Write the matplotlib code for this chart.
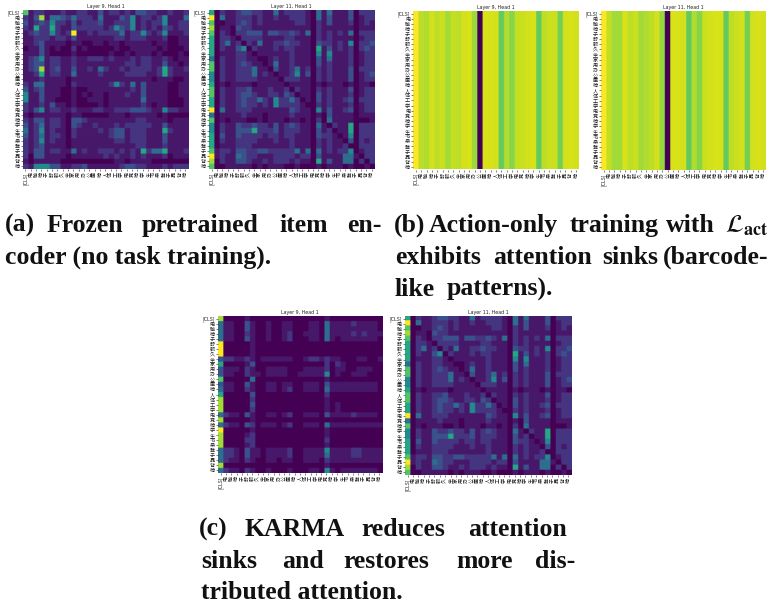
import matplotlib
matplotlib.use("Agg")
import matplotlib.pyplot as plt
import numpy as np

plt.rcParams["font.family"] = ["Noto Sans CJK SC", "DejaVu Sans"]
plt.rcParams["mathtext.fontset"] = "stix"

W, H = 777, 603

tokens = ["[CLS]"] + list("电脑椅子舒服久坐家用办公座椅人体工学电竞椅学生书桌凳子靠背椅")

# attention, 0 (dark) to 9 (yellow), one string per row
frozen_layer9 = [
	"71221 11211 22113 12212 13322 11211 2",
	"21381 44324 22214 11132 51221 25111 4",
	"31232 52213 12223 11222 51212 25112 2",
	"21622 62113 22222 12532 51212 13212 2",
	"12322 52129 11212 22241 22521 25111 2",
	"11222 12213 11111 11221 22211 12001 1",
	"11231 11101 10011 01101 11110 11001 1",
	"01131 01002 01000 00100 11111 01000 1",
	"11131 00001 00000 01001 01110 10001 0",
	"12351 22112 11222 12111 21221 12101 1",
	"12331 22112 11111 11112 21221 13110 1",
	"12381 23113 11214 21121 22221 26211 2",
	"11261 22114 11112 11112 22211 26211 1",
	"11121 11101 11111 11111 11110 11100 1",
	"21441 11102 11111 12521 41311 11001 1",
	"31231 11001 00111 11111 21311 11001 1",
	"51131 11001 01011 01112 11311 11001 1",
	"51131 10001 00111 01111 11411 11000 1",
	"21121 31101 00001 01111 11210 11000 1",
	"21351 22112 11122 11222 33321 15221 1",
	"10111 11101 10000 01110 11111 01000 0",
	"21331 22103 32111 11111 12211 11011 1",
	"31241 22103 21121 11212 22221 13111 1",
	"41251 21102 11112 12331 22211 16211 1",
	"31241 22102 11111 12331 22211 13111 1",
	"21251 21101 11111 11221 22211 13111 1",
	"21231 11101 11111 11111 12211 12111 1",
	"21331 22114 12112 22121 21624 46111 2",
	"20331 11101 11111 21211 21211 12011 1",
	"10111 11000 00000 00110 11110 00000 0",
	"21555 33112 23111 11123 32211 12122 2",
]

frozen_layer11 = [
	"60211 23322 11412 22210 41411 13022 2",
	"90411 22212 11211 22210 41311 13012 2",
	"70011 23212 11111 12210 21311 12012 1",
	"80110 32211 11111 11110 21111 11011 1",
	"70210 22333 13322 32140 21212 14022 2",
	"60221 02222 11112 21110 21211 11012 2",
	"60241 20214 11223 22110 32212 15022 3",
	"60211 35021 11212 21110 61312 12023 2",
	"60111 22101 11111 21110 51511 12012 2",
	"40211 22110 01211 21110 31411 12012 2",
	"70211 23211 01411 21110 31211 12012 2",
	"70211 22241 10311 24120 21211 13022 2",
	"50211 22241 21011 25130 21211 13012 3",
	"50211 22221 11102 22110 21211 13012 2",
	"60101 11101 11110 11110 10111 01011 0",
	"70211 22311 12112 02110 21211 13012 2",
	"70211 23321 12213 20110 31211 12012 2",
	"60211 23224 21522 42010 31211 23022 2",
	"60211 23221 21522 22100 21211 12012 2",
	"90411 22211 11111 32110 51311 23012 2",
	"40111 12111 01111 21110 10311 11011 1",
	"70101 11001 01110 11010 20411 11000 1",
	"50211 32232 21312 32110 41021 16022 2",
	"50211 33362 22312 22110 31201 16022 2",
	"60311 32222 12212 21110 32210 15022 2",
	"60211 22221 11211 21110 21211 03021 2",
	"60111 22211 11111 21110 21211 20022 2",
	"71221 33223 32222 24140 41212 25012 2",
	"91211 43221 11222 21220 31111 44102 2",
	"80211 33211 21222 12110 61311 44020 2",
	"70011 11101 01110 01000 10111 01001 0",
]

karma_layer9 = [
	"80000 10000 00000 00000 10000 00000 0",
	"41100 31001 00110 00110 41111 21111 0",
	"41100 31001 00110 00110 41111 11111 0",
	"41100 21001 00120 01110 41111 21211 1",
	"41100 31001 00120 00110 41011 11111 0",
	"90000 01000 00000 00000 00000 00000 0",
	"90000 01000 00000 00000 00000 00000 0",
	"90000 01000 00000 00000 00000 00000 0",
	"32211 21011 11110 01221 21100 01100 1",
	"60000 13000 00000 00000 20210 00000 0",
	"31110 21001 11100 01111 20110 01110 0",
	"31100 21101 11100 11111 50100 11100 0",
	"70000 04000 00000 00000 10000 00000 0",
	"31100 31001 10110 01110 31111 11111 0",
	"41100 21001 10120 01110 41111 11111 0",
	"60000 03000 00000 00000 20000 00000 0",
	"80000 02000 00000 00000 10000 00000 0",
	"80000 03000 00000 00000 10100 00000 0",
	"80000 02000 00000 00000 10100 00000 0",
	"42110 31001 10120 01110 31111 21111 0",
	"80000 01000 00000 00000 00000 00000 0",
	"42110 32011 10120 01110 41111 11111 1",
	"90000 01000 00000 00000 10000 00000 0",
	"80000 12000 00000 00000 10000 00000 0",
	"80000 22000 00000 00000 20000 00000 0",
	"80000 12000 00000 00000 10000 00000 0",
	"42210 31101 11120 01111 51111 22111 1",
	"42210 31101 11120 01111 41111 22111 1",
	"42110 21001 10110 01110 21111 11111 1",
	"80000 00000 00000 00000 10000 00000 0",
	"42110 21001 00010 00110 51011 11111 0",
]

# action-only runs: every row looks the same, so one value per column
barcode_layer9 = [1.0, .90, .88, .93, .90, .92, .86, .91, .90, .93, .94, .85, 0.0, .94, .94, .93,
	.76, .88, .82, .91, .92, .93, .94, .76, .90, .92, .92, .79, .93, .94, .93]
barcode_layer11 = [1.0, .91, .86, .86, .94, .90, .92, .86, .88, .90, .93, .84, 0.0, .94, .94, .93,
	.76, .88, .82, .92, .93, .94, .94, .76, .90, .92, .93, .79, .93, .94, .93]


def to_matrix(rows):
	# low digits were a bit too bright on a straight 0..1 scale
	return np.array([[(int(c) / 9) ** 1.25 for c in r.replace(" ", "")] for r in rows])


def to_barcode(cols):
	return np.tile(np.array(cols), (len(tokens), 1))


def draw_heatmap(values, title, left, top, right, bottom):
	ax = plt.gcf().add_axes([left / W, 1 - bottom / H, (right - left) / W, (bottom - top) / H])
	n = len(tokens)
	# repeat each cell so bilinear only softens the cell edges
	fine = np.repeat(np.repeat(values, 4, axis=0), 4, axis=1)
	ax.imshow(fine, cmap="viridis", vmin=0, vmax=1, aspect="auto", interpolation="bilinear",
		extent=(-0.5, n - 0.5, n - 0.5, -0.5))
	for spine in ax.spines.values():
		spine.set_visible(False)
	ticks = np.arange(n)
	ax.set_xticks(ticks)
	ax.set_xticklabels(tokens, rotation=90, fontsize=3.7)
	ax.set_yticks(ticks)
	ax.set_yticklabels(tokens, rotation=0, fontsize=3.7)
	ax.tick_params(length=1.2, width=0.4, pad=1, color="#222222", labelcolor="#222222")
	ax.set_title(title, fontsize=3.4, pad=1.6, color="#222222", family="DejaVu Sans")
	return ax


def caption(words, baseline):
	for x, word in words:
		plt.gcf().text(x / W, 1 - baseline / H, word, family="Liberation Serif", fontweight="bold",
			fontsize=18.5, va="baseline", color="#111111")


fig = plt.figure(figsize=(W / 100, H / 100), dpi=100)

draw_heatmap(to_matrix(frozen_layer9), "Layer 9, Head 1", 22.7, 10, 188, 169)
draw_heatmap(to_matrix(frozen_layer11), "Layer 11, Head 1", 209, 10, 374.3, 169)
draw_heatmap(to_barcode(barcode_layer9), "Layer 9, Head 1", 413.3, 11, 578.7, 169.5)
draw_heatmap(to_barcode(barcode_layer11), "Layer 11, Head 1", 601, 11, 766, 170)
draw_heatmap(to_matrix(karma_layer9), "Layer 9, Head 1", 218, 316, 382, 473)
draw_heatmap(to_matrix(frozen_layer11), "Layer 11, Head 1", 405, 316, 571, 475)

caption([(5, "(a)"), (47, "Frozen"), (142, "pretrained"), (279, "item"), (347, "en-")], 232)
caption([(5, "coder (no task training).")], 264)

caption([(394, "(b)"), (429, "Action-only"), (570, "training"), (666, "with")], 232)
fig.text(725 / W, 1 - 232 / H, r"$\mathcal{L}_{\mathbf{act}}$", fontsize=18.5, va="baseline", color="#111111")
caption([(395, "exhibits"), (493, "attention"), (602, "sinks"), (663, "(barcode-")], 264)
caption([(395, "like"), (447, "patterns).")], 296)

caption([(199, "(c)"), (244, "KARMA"), (361, "reduces"), (468, "attention")], 536)
caption([(201, "sinks"), (282, "and"), (343, "restores"), (456, "more"), (535, "dis-")], 568)
caption([(201, "tributed attention.")], 599)

fig.savefig("out.png", dpi=100)
plt.close(fig)
